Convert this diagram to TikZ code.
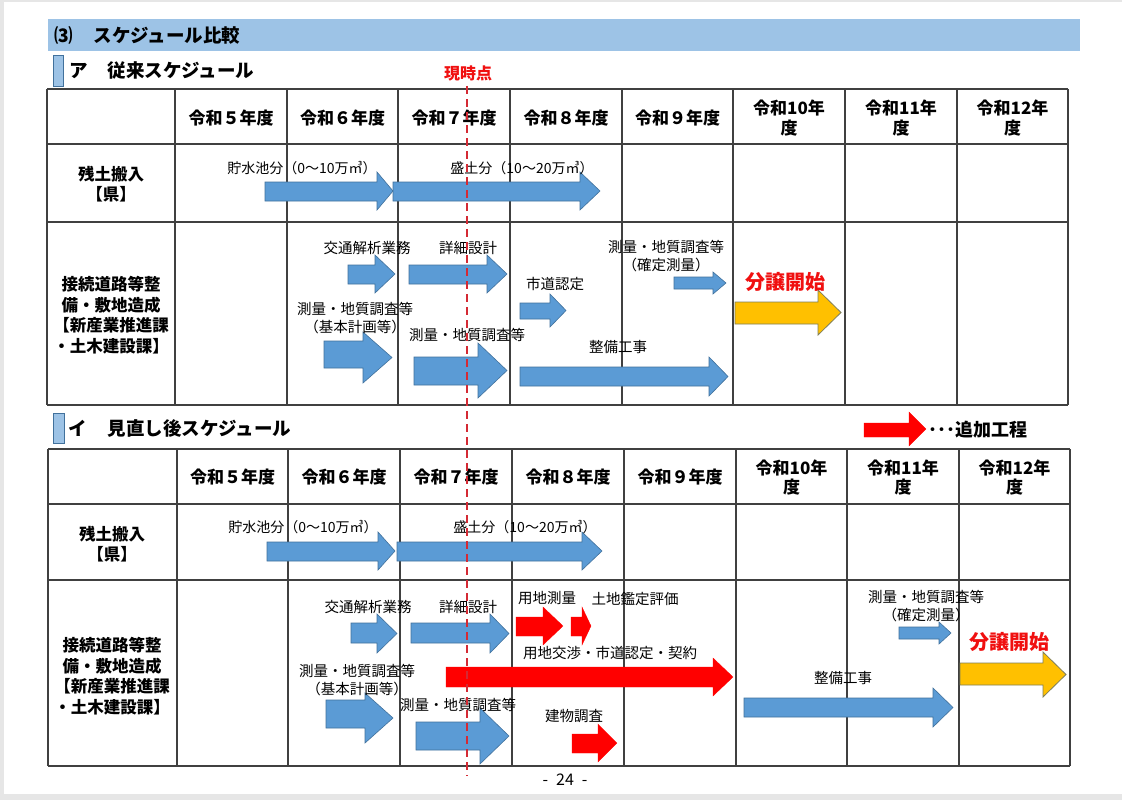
\documentclass[tikz,border=0pt]{standalone}
\usepackage{fontspec}
\setmainfont{Noto Sans CJK JP}
\definecolor{hdrblue}{HTML}{9DC3E6}
\definecolor{arrblue}{HTML}{5B9BD5}
\definecolor{arrbord}{HTML}{41719C}
\definecolor{goldfill}{HTML}{FFC000}
\definecolor{goldbord}{HTML}{7F7F5A}
\definecolor{gridc}{HTML}{404040}
\definecolor{nowred}{HTML}{D42A34}
\definecolor{txtred}{HTML}{F01010}
\definecolor{pagegray}{HTML}{E6E6E6}
\newcommand{\blkarrow}[8]{\draw[#1] (#2,#5) -- (#3,#5) -- (#3,#7) -- (#4,{(#7+#8)/2}) -- (#3,#8) -- (#3,#6) -- (#2,#6) -- cycle;}
\tikzset{
  grid/.style={draw=gridc, line width=1.1pt},
  barr/.style={fill=arrblue, draw=arrbord, line width=0.6pt, line join=miter},
  rarr/.style={fill=red, draw=red, line width=0.3pt},
  garr/.style={fill=goldfill, draw=goldbord, line width=0.8pt},
  lbl/.style={inner sep=0pt, align=center, font=\fontsize{14.5}{18.5}\selectfont},
  lbls/.style={inner sep=0pt, align=center, font=\fontsize{14}{17}\selectfont},
  hdr/.style={inner sep=0pt, align=center, font=\bfseries\fontsize{17}{19.5}\selectfont},
  rowl/.style={inner sep=0pt, align=center, font=\bfseries\fontsize{16.5}{20.5}\selectfont},
  ttl/.style={inner sep=0pt, anchor=west, font=\bfseries\fontsize{18.5}{20}\selectfont},
  bigred/.style={inner sep=0pt, text=txtred, font=\bfseries\fontsize{20}{22}\selectfont},
}
\begin{document}
\begin{tikzpicture}[x=1pt,y=-1pt]
\useasboundingbox (0,0) rectangle (1122,800);
\fill[white] (0,0) rectangle (1122,800);
\fill[pagegray] (0,0) rectangle (1122,2);
\fill[pagegray] (0,0) rectangle (4,800);
\fill[pagegray] (0,794) rectangle (1122,800);

% title bar
\fill[hdrblue] (48,19) rectangle (1080,51);
\node[ttl] (title) at (54,35) {⑶\hspace{21pt}スケジュール比較};

% ---------- section A ----------
\draw[fill=hdrblue, draw=arrbord, line width=0.8pt] (53,55) rectangle (63,86);
\node[ttl] (subA) at (69,71) {ア\hspace{20pt}従来スケジュール};
\node[inner sep=0pt, text=txtred, font=\bfseries\fontsize{16}{18}\selectfont] (now) at (468,73) {現時点};

\foreach \x in {47,175,287,398,510,622,733,845,957,1068} \draw[grid] (\x,89) -- (\x,405);
\foreach \y in {89,144,222,405} \draw[grid] (47,\y) -- (1068,\y);

\foreach \cx/\t [count=\i] in {231/令和５年度, 342.5/令和６年度, 454/令和７年度, 566/令和８年度, 677.5/令和９年度, 789/{令和10年\\度}, 901/{令和11年\\度}, 1012.5/{令和12年\\度}}
  \node[hdr] (ha\i) at (\cx,118) {\t};

\node[rowl] (ra1) at (111,184) {残土搬入\\【県】};
\node[rowl] (ra2) at (111,315) {接続道路等整\\備・敷地造成\\【新産業推進課\\・土木建設課】};

% arrows A
\blkarrow{barr}{265}{377}{393}{182}{201}{172}{210}
\blkarrow{barr}{393}{580}{600}{182}{201}{172}{210}
\blkarrow{barr}{348}{375}{395}{265}{284}{255}{293}
\blkarrow{barr}{409}{487}{507}{265}{284}{255}{293}
\blkarrow{barr}{324}{363}{392}{341}{368}{332}{383}
\blkarrow{barr}{414}{478}{507}{357}{385}{343}{398}
\blkarrow{barr}{520}{550}{566}{303}{319}{294}{327}
\blkarrow{barr}{674}{713}{726}{277}{289}{272}{294}
\blkarrow{garr}{735}{818}{841}{302}{324}{290}{335}
\blkarrow{barr}{520}{709}{728}{367}{386}{357}{396}

\node[lbls] (a1) at (302,168) {貯水池分（0～10万㎥）};
\node[lbls] (a2) at (522,168) {盛土分（10～20万㎥）};
\node[lbl] (a3) at (367,248) {交通解析業務};
\node[lbl] (a4) at (468,248) {詳細設計};
\node[lbl] (a5) at (355,318) {測量・地質調査等\\（基本計画等）};
\node[lbl] (a6) at (467,335) {測量・地質調査等};
\node[lbl] (a7) at (555,284) {市道認定};
\node[lbl] (a8) at (666,256) {測量・地質調査等\\（確定測量）};
\node[bigred] (a9) at (785,282) {分譲開始};
\node[lbl] (a10) at (618,347) {整備工事};

% ---------- section B ----------
\draw[fill=hdrblue, draw=arrbord, line width=0.8pt] (53,413) rectangle (64,443);
\node[ttl] (subB) at (68,428) {イ\hspace{21pt}見直し後スケジュール};

\blkarrow{rarr}{864}{909}{926}{423}{437}{412}{446}
\node[inner sep=0pt, anchor=west, font=\bfseries\fontsize{18}{20}\selectfont] (legend) at (928,430) {･･･追加工程};

\foreach \x in {48,177,288,400,512,624,736,847,959,1070} \draw[grid] (\x,449) -- (\x,766);
\foreach \y in {449,504,580,766} \draw[grid] (48,\y) -- (1070,\y);

\foreach \cx/\t [count=\i] in {232.5/令和５年度, 344/令和６年度, 456/令和７年度, 568/令和８年度, 680/令和９年度, 791.5/{令和10年\\度}, 903/{令和11年\\度}, 1014.5/{令和12年\\度}}
  \node[hdr] (hb\i) at (\cx,477.5) {\t};

\node[rowl] (rb1) at (112,544) {残土搬入\\【県】};
\node[rowl] (rb2) at (112,676) {接続道路等整\\備・敷地造成\\【新産業推進課\\・土木建設課】};

% arrows B
\blkarrow{barr}{267}{378}{395}{542}{561}{532}{570}
\blkarrow{barr}{397}{582}{602}{542}{561}{532}{570}
\blkarrow{barr}{351}{377}{397}{623}{643}{614}{653}
\blkarrow{barr}{411}{490}{509}{623}{643}{614}{653}
\blkarrow{rarr}{516}{543}{563}{617}{636}{607}{645}
\blkarrow{rarr}{571}{582}{591}{617}{636}{607}{645}
\blkarrow{rarr}{446}{713}{733}{667}{687}{658}{696}
\blkarrow{barr}{326}{365}{393}{700}{728}{693}{743}
\blkarrow{barr}{416}{480}{509}{722}{750}{708}{764}
\blkarrow{rarr}{572}{598}{617}{734}{753}{724}{762}
\blkarrow{barr}{899}{939}{951}{627}{639}{622}{644}
\blkarrow{garr}{960}{1043}{1066}{663}{685}{652}{697}
\blkarrow{barr}{744}{933}{953}{698}{717}{688}{727}

\node[lbls] (b1) at (303,527) {貯水池分（0～10万㎥）};
\node[lbls] (b2) at (525,527) {盛土分（10～20万㎥）};
\node[lbl] (b3) at (368,607) {交通解析業務};
\node[lbl] (b4) at (468,607) {詳細設計};
\node[lbl] (b5) at (547,598) {用地測量};
\node[lbl] (b6) at (635,599) {土地鑑定評価};
\node[lbl] (b7) at (610,653) {用地交渉・市道認定・契約};
\node[lbl] (b8) at (357,680) {測量・地質調査等\\（基本計画等）};
\node[lbl] (b9) at (458,705) {測量・地質調査等};
\node[lbl] (b10) at (574,716) {建物調査};
\node[lbl] (b11) at (926,606) {測量・地質調査等\\（確定測量）};
\node[bigred] (b12) at (1009,642) {分譲開始};
\node[lbl] (b13) at (843,678) {整備工事};

% current time line
\coordinate (nowtop) at (467,86);
\coordinate (nowbot) at (467,776);
\draw[nowred, line width=2.2pt, dash pattern=on 8pt off 5pt] (nowtop) -- (nowbot);

\node[inner sep=0pt, font=\fontsize{16}{18}\selectfont] (page) at (565,780) {-\hspace{8pt}24\hspace{8pt}-};
\end{tikzpicture}
\end{document}
